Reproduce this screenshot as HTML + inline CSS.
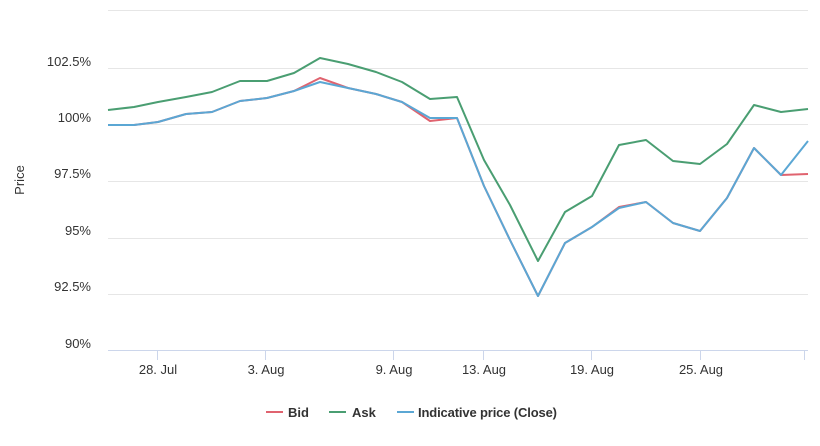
<!DOCTYPE html>
<html><head><meta charset="utf-8"><style>
body{margin:0;background:#fff;}
svg{display:block;font-family:"Liberation Sans",sans-serif;}
</style></head><body>
<svg width="820" height="446" viewBox="0 0 820 446">
<g stroke="#e6e6e6" stroke-width="1">
<line x1="108" x2="808" y1="10.5" y2="10.5"/>
<line x1="108" x2="808" y1="68.5" y2="68.5"/>
<line x1="108" x2="808" y1="124.5" y2="124.5"/>
<line x1="108" x2="808" y1="181.5" y2="181.5"/>
<line x1="108" x2="808" y1="238.5" y2="238.5"/>
<line x1="108" x2="808" y1="294.5" y2="294.5"/>
</g>
<line x1="108" x2="808" y1="350.5" y2="350.5" stroke="#ccd6eb"/>
<g stroke="#ccd6eb">
<line x1="157.5" x2="157.5" y1="350" y2="360"/>
<line x1="265.5" x2="265.5" y1="350" y2="360"/>
<line x1="393.5" x2="393.5" y1="350" y2="360"/>
<line x1="483.5" x2="483.5" y1="350" y2="360"/>
<line x1="591.5" x2="591.5" y1="350" y2="360"/>
<line x1="700.5" x2="700.5" y1="350" y2="360"/>
<line x1="804.5" x2="804.5" y1="350" y2="360"/>
</g>
<g font-size="13" fill="#333" text-anchor="end">
<text x="91" y="66">102.5%</text>
<text x="91" y="122">100%</text>
<text x="91" y="178">97.5%</text>
<text x="91" y="235">95%</text>
<text x="91" y="291">92.5%</text>
<text x="91" y="348">90%</text>
</g>
<g font-size="13" fill="#333" text-anchor="middle">
<text x="158" y="374">28. Jul</text>
<text x="266" y="374">3. Aug</text>
<text x="394" y="374">9. Aug</text>
<text x="484" y="374">13. Aug</text>
<text x="592" y="374">19. Aug</text>
<text x="701" y="374">25. Aug</text>
</g>
<text transform="translate(24 180) rotate(-90)" font-size="13" fill="#333" text-anchor="middle">Price</text>
<g fill="none" stroke-width="2" stroke-linejoin="round">
<polyline stroke="#e0636f" points="108,125 134,125 158,122 186,114 212,112 240,101 267,98 294,91 320,78 348,88 376,94 402,102 430,121 457,118 484,186 510,240 538,296 565,243 592,227 619,207 646,202 673,223 700,231 727,198 754,148 781,175 808,174"/>
<polyline stroke="#4a9e72" points="108,110 134,107 158,102 186,97 212,92 240,81 267,81 294,73 320,58 348,64 376,72 402,82 430,99 457,97 484,160 510,205 538,261 565,212 592,196 619,145 646,140 673,161 700,164 727,144 754,105 781,112 808,109"/>
<polyline stroke="#5ba7d4" points="108,125 134,125 158,122 186,114 212,112 240,101 267,98 294,91 320,82 348,88 376,94 402,102 430,118 457,118 484,186 510,240 538,296 565,243 592,227 619,208 646,202 673,223 700,231 727,198 754,148 781,175 808,141"/>
</g>
<g font-size="13" font-weight="bold" fill="#333">
<line x1="266" x2="283" y1="412" y2="412" stroke="#e0636f" stroke-width="2"/>
<text x="288" y="417">Bid</text>
<line x1="329" x2="346" y1="412" y2="412" stroke="#4a9e72" stroke-width="2"/>
<text x="352" y="417">Ask</text>
<line x1="397" x2="414" y1="412" y2="412" stroke="#5ba7d4" stroke-width="2"/>
<text x="418" y="417" textLength="139">Indicative price (Close)</text>
</g>
</svg>
</body></html>
